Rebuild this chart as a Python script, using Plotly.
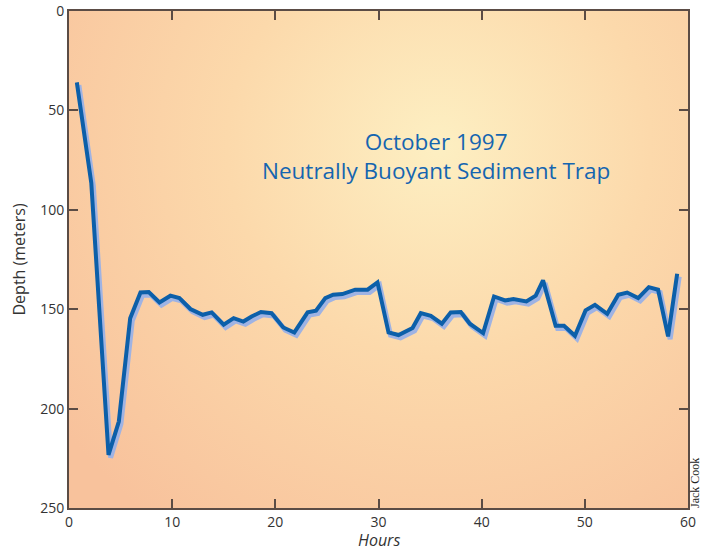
import base64
import plotly.graph_objects as go

# ---- data ----
hours = [0.76, 2.16, 3.83, 4.83, 5.93, 6.93, 7.73, 8.77, 9.83, 10.7,
         11.77, 12.96, 13.83, 14.99, 15.96, 16.9, 17.7, 18.6, 19.64, 20.77,
         21.84, 23.13, 23.94, 24.84, 25.6, 26.5, 27.74, 28.94, 29.9, 30.97,
         31.94, 33.3, 34.1, 35.07, 36.14, 37.0, 37.98, 38.85, 40.14, 41.2,
         42.27, 43.07, 44.33, 45.24, 45.95, 47.17, 47.98, 49.04, 50.07, 50.98,
         52.17, 53.24, 54.1, 55.17, 56.2, 57.1, 58.07, 58.95]
depth = [35.9, 86.5, 223.3, 206.5, 154.5, 141.6, 141.4, 146.6, 143.2, 144.4,
         149.9, 152.8, 151.6, 157.8, 154.5, 156.2, 153.7, 151.4, 152.0, 159.2,
         161.7, 151.6, 150.8, 144.4, 142.7, 142.4, 140.2, 140.2, 136.5, 161.7,
         163.0, 159.5, 152.0, 153.3, 157.3, 151.6, 151.4, 157.3, 162.0, 143.6,
         145.6, 144.9, 146.1, 143.2, 135.5, 158.3, 158.3, 163.4, 150.6, 147.8,
         152.3, 142.7, 141.6, 144.4, 138.9, 140.2, 163.7, 132.2]
x_ticks = [0, 10, 20, 30, 40, 50, 60]
y_ticks = [0, 50, 100, 150, 200, 250]
title_lines = ["October 1997", "Neutrally Buoyant Sediment Trap"]

# drop-shadow offset (in data units)
SH_X, SH_Y = 0.2, 1.4

W, H = 702, 550
ML, MR, MT, MB = 69, 14, 11, 42
PW, PH = W - ML - MR, H - MT - MB

svg = f'''<svg xmlns="http://www.w3.org/2000/svg" width="{PW}" height="{PH}" viewBox="0 0 {PW} {PH}" preserveAspectRatio="none">
<defs><radialGradient id="g" gradientUnits="userSpaceOnUse" cx="370" cy="135" r="470">
<stop offset="0" stop-color="#fdefc2"/>
<stop offset="0.45" stop-color="#fcd9ab"/>
<stop offset="1" stop-color="#f8c29c"/>
</radialGradient></defs>
<rect width="{PW}" height="{PH}" fill="url(#g)"/></svg>'''
src = "data:image/svg+xml;base64," + base64.b64encode(svg.encode()).decode()

fig = go.Figure()
fig.add_trace(go.Scatter(
    x=[h + SH_X for h in hours], y=[d + SH_Y for d in depth],
    mode="lines", line=dict(color="#9fb3e3", width=5),
    hoverinfo="skip", showlegend=False))
fig.add_trace(go.Scatter(
    x=hours, y=depth, mode="lines",
    line=dict(color="#0c5fa9", width=4),
    showlegend=False))

axis_common = dict(
    showgrid=False, zeroline=False, showline=True, linecolor="#5b4c45",
    linewidth=2, mirror="ticks", ticks="inside", ticklen=9, tickwidth=2,
    tickcolor="#5b4c45", automargin=False,
    tickfont=dict(family="Open Sans", size=14, color="#333333"),
)
fig.update_xaxes(range=[0, 60], tickvals=x_ticks, **axis_common)
fig.update_yaxes(range=[250, 0], tickvals=y_ticks, **axis_common)

# axis titles
fig.add_annotation(x=0.5, y=0, xref="paper", yref="paper", yanchor="top", yshift=-19,
                   text="<i>Hours</i>", showarrow=False,
                   font=dict(family="Open Sans", size=16, color="#333333"))
fig.add_annotation(x=0, y=0.5, xref="paper", yref="paper", xanchor="right", xshift=-38,
                   text="Depth (meters)", textangle=-90, showarrow=False,
                   font=dict(family="Open Sans", size=16, color="#333333"))

fig.add_annotation(x=35.6, y=73, xref="x", yref="y",
                   text="<br>".join(title_lines), showarrow=False,
                   font=dict(family="Open Sans", size=22.5, color="#1565b0"),
                   align="center")
fig.add_annotation(x=1.0, y=0.0, xref="paper", yref="paper",
                   xanchor="left", yanchor="bottom", xshift=-2, yshift=-2,
                   text="Jack Cook", textangle=-90, showarrow=False,
                   font=dict(family="Liberation Serif", size=12, color="#222222"))

fig.add_layout_image(dict(source=src, xref="paper", yref="paper", x=0, y=1,
                          sizex=1, sizey=1, sizing="stretch", layer="below",
                          xanchor="left", yanchor="top"))

fig.update_layout(
    width=W, height=H, margin=dict(l=ML, r=MR, t=MT, b=MB),
    paper_bgcolor="white", plot_bgcolor="rgba(0,0,0,0)",
)
fig.write_html("out.html", config={"displayModeBar": False},
               post_script="document.body.style.margin='0';document.body.style.padding='0';")
